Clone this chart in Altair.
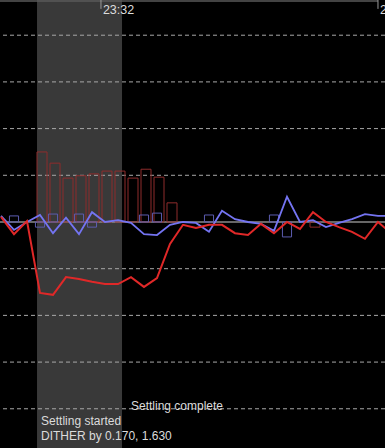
import altair as alt
import pandas as pd

# ---- data (x = sample index, y = arc-seconds) ----
idx = list(range(31))
dec_err = [0.11, -0.26, 0.02, -1.52, -1.56, -1.18, -1.22, -1.28, -1.33, -1.33,
           -1.18, -1.39, -1.20, -0.47, -0.06, -0.13, -0.06, -0.06, -0.24, -0.28,
           -0.04, -0.24, 0.00, -0.15, 0.21, 0.00, -0.11, -0.21, -0.36, 0.00, -0.24]
ra_err = [0.13, -0.17, 0.00, 0.15, -0.24, 0.09, -0.26, 0.21, 0.00, 0.04,
          -0.02, -0.26, -0.28, -0.06, 0.00, -0.02, -0.21, 0.24, 0.06, 0.00,
          -0.04, -0.19, 0.54, 0.00, 0.04, -0.11, -0.02, 0.06, 0.17, 0.13, 0.13]

dec_bar_idx = [3, 4, 5, 6, 7, 8, 9, 10, 11, 12, 13, 24]
dec_bar_val = [1.50, 1.26, 0.94, 0.99, 1.03, 1.09, 1.09, 0.94, 1.13, 0.96, 0.41, -0.11]
ra_bar_idx = [1, 3, 4, 6, 7, 11, 12, 16, 21, 22]
ra_bar_val = [0.13, -0.11, 0.17, 0.17, -0.11, 0.15, 0.19, 0.15, 0.15, -0.32]

grid_levels = [-4, -3, -2, -1, 1, 2, 3, 4]
settle_start, settle_end = 2.77, 9.31
time_ticks = [7.69, 29.0]
time_labels = ["23:32", "2"]
notes = ["Settling complete", "Settling started", "DITHER by 0.170, 1.630"]
note_x = [10.0, 3.08, 3.08]
note_y = [-4.03, -4.35, -4.67]

XMIN, XMAX = -0.077, 29.54
YMIN, YMAX = -4.84, 4.754

xs = alt.Scale(domain=[XMIN, XMAX], nice=False, zero=False)
ys = alt.Scale(domain=[YMIN, YMAX], nice=False, zero=False)

lines = pd.DataFrame({"i": idx, "dec": dec_err, "ra": ra_err})
dec_bars = pd.DataFrame({"a": [i - 0.23 for i in dec_bar_idx],
                         "b": [i + 0.54 for i in dec_bar_idx],
                         "v": dec_bar_val, "z": 0.0})
ra_bars = pd.DataFrame({"a": [i - 0.35 for i in ra_bar_idx],
                        "b": [i + 0.35 for i in ra_bar_idx],
                        "v": ra_bar_val, "z": 0.0})

shade = alt.Chart(pd.DataFrame({"a": [settle_start], "b": [settle_end],
                                "y0": [YMIN], "y1": [YMAX]})).mark_rect(
    color="#393939").encode(
    x=alt.X("a:Q", scale=xs, axis=None), x2="b:Q",
    y=alt.Y("y0:Q", scale=ys, axis=None), y2="y1:Q")

grid = alt.Chart(pd.DataFrame({"g": grid_levels})).mark_rule(
    color="#a8a8a8", strokeDash=[4, 3], strokeWidth=1).encode(
    y=alt.Y("g:Q", scale=ys, axis=None))

center = alt.Chart(pd.DataFrame({"g": [0.0]})).mark_rule(
    color="#8a8a8a", strokeWidth=1.5).encode(
    y=alt.Y("g:Q", scale=ys, axis=None))

dbars = alt.Chart(dec_bars).mark_rect(
    fillOpacity=0, stroke="#8e2c2c", strokeWidth=1).encode(
    x=alt.X("a:Q", scale=xs, axis=None), x2="b:Q",
    y=alt.Y("z:Q", scale=ys, axis=None), y2="v:Q")

rbars = alt.Chart(ra_bars).mark_rect(
    fillOpacity=0, stroke="#5c5cb0", strokeWidth=1).encode(
    x=alt.X("a:Q", scale=xs, axis=None), x2="b:Q",
    y=alt.Y("z:Q", scale=ys, axis=None), y2="v:Q")

ra_line = alt.Chart(lines).mark_line(
    color="#7474f2", strokeWidth=1.8, clip=True).encode(
    x=alt.X("i:Q", scale=xs, axis=None),
    y=alt.Y("ra:Q", scale=ys, axis=None))

dec_line = alt.Chart(lines).mark_line(
    color="#e02828", strokeWidth=2, clip=True).encode(
    x=alt.X("i:Q", scale=xs, axis=None),
    y=alt.Y("dec:Q", scale=ys, axis=None))

top_line = alt.Chart(pd.DataFrame({"a": [XMIN], "b": [29.0], "y": [YMAX - 0.02]})).mark_rule(
    color="#5a5a5a", strokeWidth=1.5).encode(
    x=alt.X("a:Q", scale=xs, axis=None), x2="b:Q",
    y=alt.Y("y:Q", scale=ys, axis=None))

ticks = alt.Chart(pd.DataFrame({"t": time_ticks, "y0": [YMAX] * 2,
                                "y1": [YMAX - 0.19] * 2})).mark_rule(
    color="#9a9a9a", strokeWidth=1).encode(
    x=alt.X("t:Q", scale=xs, axis=None),
    y=alt.Y("y0:Q", scale=ys, axis=None), y2="y1:Q")

tick_text = alt.Chart(pd.DataFrame({"t": [t + 0.15 for t in time_ticks],
                                    "lab": time_labels,
                                    "y": [YMAX - 0.3] * 2})).mark_text(
    align="left", baseline="alphabetic", color="#dcdcdc",
    font="Liberation Sans", fontSize=12.5).encode(
    x=alt.X("t:Q", scale=xs, axis=None),
    y=alt.Y("y:Q", scale=ys, axis=None), text="lab:N")

note_text = alt.Chart(pd.DataFrame({"x": note_x, "y": note_y, "lab": notes})).mark_text(
    align="left", baseline="alphabetic", color="#dcdcdc",
    font="Liberation Sans", fontSize=12).encode(
    x=alt.X("x:Q", scale=xs, axis=None),
    y=alt.Y("y:Q", scale=ys, axis=None), text="lab:N")

chart = alt.layer(shade, grid, center, dbars, rbars, ra_line, dec_line,
                  top_line, ticks, tick_text, note_text).properties(
    width=385, height=448, background="#000000",
    padding=0, autosize=alt.AutoSizeParams(type="none")
).configure_view(stroke=None)

chart.save("out.html", embed_options={"renderer": "svg", "actions": False})
